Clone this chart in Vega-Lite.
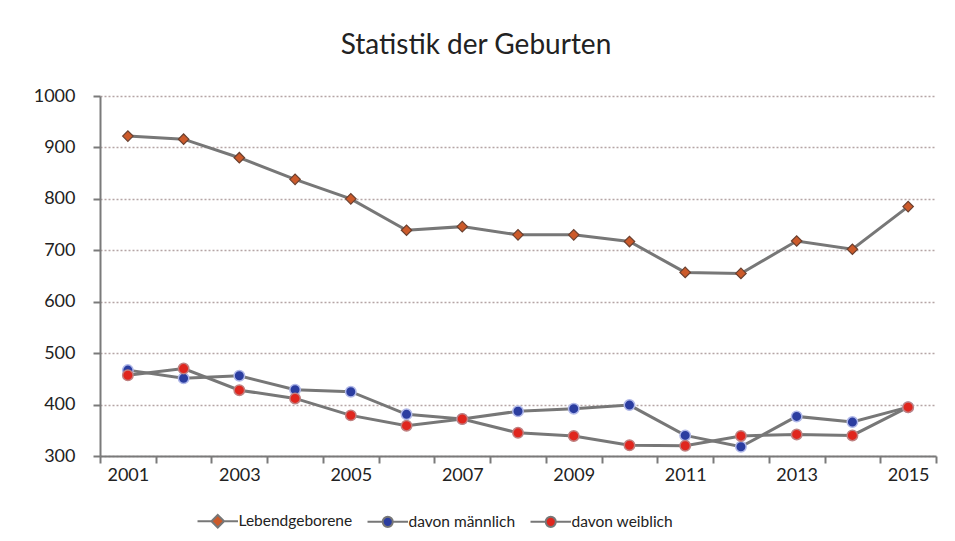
{
  "$schema": "https://vega.github.io/schema/vega-lite/v6.json",
  "width": 836,
  "height": 360,
  "autosize": {"type": "none"},
  "padding": {"left": 100, "top": 96, "right": 19, "bottom": 85},
  "background": "white",
  "title": {"text": "Statistik der Geburten", "font": "Lato", "fontSize": 28, "fontWeight": "normal", "color": "#222222", "anchor": "middle", "dx": -42, "offset": 27},
  "data": {"values": [
    {"year": 2001, "series": "Lebendgeborene", "value": 922},
    {"year": 2002, "series": "Lebendgeborene", "value": 916},
    {"year": 2003, "series": "Lebendgeborene", "value": 880},
    {"year": 2004, "series": "Lebendgeborene", "value": 838},
    {"year": 2005, "series": "Lebendgeborene", "value": 800},
    {"year": 2006, "series": "Lebendgeborene", "value": 739},
    {"year": 2007, "series": "Lebendgeborene", "value": 746},
    {"year": 2008, "series": "Lebendgeborene", "value": 730},
    {"year": 2009, "series": "Lebendgeborene", "value": 730},
    {"year": 2010, "series": "Lebendgeborene", "value": 717},
    {"year": 2011, "series": "Lebendgeborene", "value": 657},
    {"year": 2012, "series": "Lebendgeborene", "value": 655},
    {"year": 2013, "series": "Lebendgeborene", "value": 718},
    {"year": 2014, "series": "Lebendgeborene", "value": 702},
    {"year": 2015, "series": "Lebendgeborene", "value": 785},
    {"year": 2001, "series": "davon männlich", "value": 467},
    {"year": 2002, "series": "davon männlich", "value": 451},
    {"year": 2003, "series": "davon männlich", "value": 456},
    {"year": 2004, "series": "davon männlich", "value": 429},
    {"year": 2005, "series": "davon männlich", "value": 425},
    {"year": 2006, "series": "davon männlich", "value": 381},
    {"year": 2007, "series": "davon männlich", "value": 372},
    {"year": 2008, "series": "davon männlich", "value": 387},
    {"year": 2009, "series": "davon männlich", "value": 392},
    {"year": 2010, "series": "davon männlich", "value": 399},
    {"year": 2011, "series": "davon männlich", "value": 340},
    {"year": 2012, "series": "davon männlich", "value": 318},
    {"year": 2013, "series": "davon männlich", "value": 377},
    {"year": 2014, "series": "davon männlich", "value": 366},
    {"year": 2015, "series": "davon männlich", "value": 395},
    {"year": 2001, "series": "davon weiblich", "value": 457},
    {"year": 2002, "series": "davon weiblich", "value": 470},
    {"year": 2003, "series": "davon weiblich", "value": 428},
    {"year": 2004, "series": "davon weiblich", "value": 412},
    {"year": 2005, "series": "davon weiblich", "value": 379},
    {"year": 2006, "series": "davon weiblich", "value": 359},
    {"year": 2007, "series": "davon weiblich", "value": 372},
    {"year": 2008, "series": "davon weiblich", "value": 345},
    {"year": 2009, "series": "davon weiblich", "value": 339},
    {"year": 2010, "series": "davon weiblich", "value": 321},
    {"year": 2011, "series": "davon weiblich", "value": 320},
    {"year": 2012, "series": "davon weiblich", "value": 339},
    {"year": 2013, "series": "davon weiblich", "value": 342},
    {"year": 2014, "series": "davon weiblich", "value": 340},
    {"year": 2015, "series": "davon weiblich", "value": 395}
  ]},
  "encoding": {
    "x": {
      "field": "year", "type": "ordinal",
      "scale": {"type": "band", "paddingInner": 0, "paddingOuter": 0},
      "axis": {
        "title": null, "labelAngle": 0, "tickBand": "extent",
        "labelExpr": "datum.value % 2 == 1 ? datum.label : ''",
        "domainColor": "#7a7a7a", "domainWidth": 2, "tickColor": "#7a7a7a", "tickWidth": 2, "tickSize": 7,
        "labelFont": "Lato", "labelFontSize": 18, "labelColor": "#222222", "labelPadding": 3, "grid": false
      }
    },
    "y": {
      "field": "value", "type": "quantitative",
      "scale": {"domain": [300, 1000], "nice": false, "zero": false},
      "axis": {
        "title": null, "values": [300, 400, 500, 600, 700, 800, 900, 1000], "format": "d",
        "grid": true, "gridDash": [2, 2], "gridColor": "#b5a5a5", "gridWidth": 1.5,
        "domainColor": "#7a7a7a", "domainWidth": 2, "tickColor": "#7a7a7a", "tickWidth": 2, "tickSize": 7,
        "labelFont": "Lato", "labelFontSize": 18, "labelColor": "#222222", "labelPadding": 18
      }
    }
  },
  "layer": [
    {
      "mark": {"type": "line", "color": "#777777", "strokeWidth": 3},
      "encoding": {"detail": {"field": "series", "type": "nominal"}}
    },
    {
      "transform": [{"filter": "datum.series == 'Lebendgeborene'"}],
      "mark": {"type": "point", "shape": "diamond", "filled": true, "opacity": 1, "size": 110, "stroke": "#6a4030", "strokeWidth": 1.2},
      "encoding": {"color": {
        "field": "series", "type": "nominal",
        "scale": {"domain": ["Lebendgeborene", "davon männlich", "davon weiblich"], "range": ["#cc5a2a", "#2b3da0", "#e0261e"]},
        "legend": {
          "orient": "none", "legendX": 110, "legendY": 417, "direction": "horizontal", "title": null,
          "symbolSize": 160,
          "symbolType": {"expr": "datum.value == 'Lebendgeborene' ? 'M-3.2,0H-1M1,0H3.2M0,-1L1,0L0,1L-1,0Z' : 'M-3.2,0H-0.8M0.8,0H3.2M-0.8,0A0.8,0.8,0,1,0,0.8,0A0.8,0.8,0,1,0,-0.8,0Z'"},
          "labelFont": "Lato", "labelFontSize": 15.5, "labelColor": "#222222",
          "labelOffset": 13, "columnPadding": 10, "symbolStrokeColor": "#777777", "symbolStrokeWidth": 2, "symbolOpacity": 1
        }
      }}
    },
    {
      "transform": [{"filter": "datum.series == 'davon männlich'"}],
      "mark": {"type": "point", "shape": "circle", "filled": true, "opacity": 1, "size": 110, "stroke": "#b0b8e8", "strokeWidth": 1.5},
      "encoding": {"color": {"field": "series", "type": "nominal", "legend": null}}
    },
    {
      "transform": [{"filter": "datum.series == 'davon weiblich'"}],
      "mark": {"type": "point", "shape": "circle", "filled": true, "opacity": 1, "size": 110, "stroke": "#c08080", "strokeWidth": 1.5},
      "encoding": {"color": {"field": "series", "type": "nominal", "legend": null}}
    }
  ],
  "config": {"view": {"stroke": null}}
}
